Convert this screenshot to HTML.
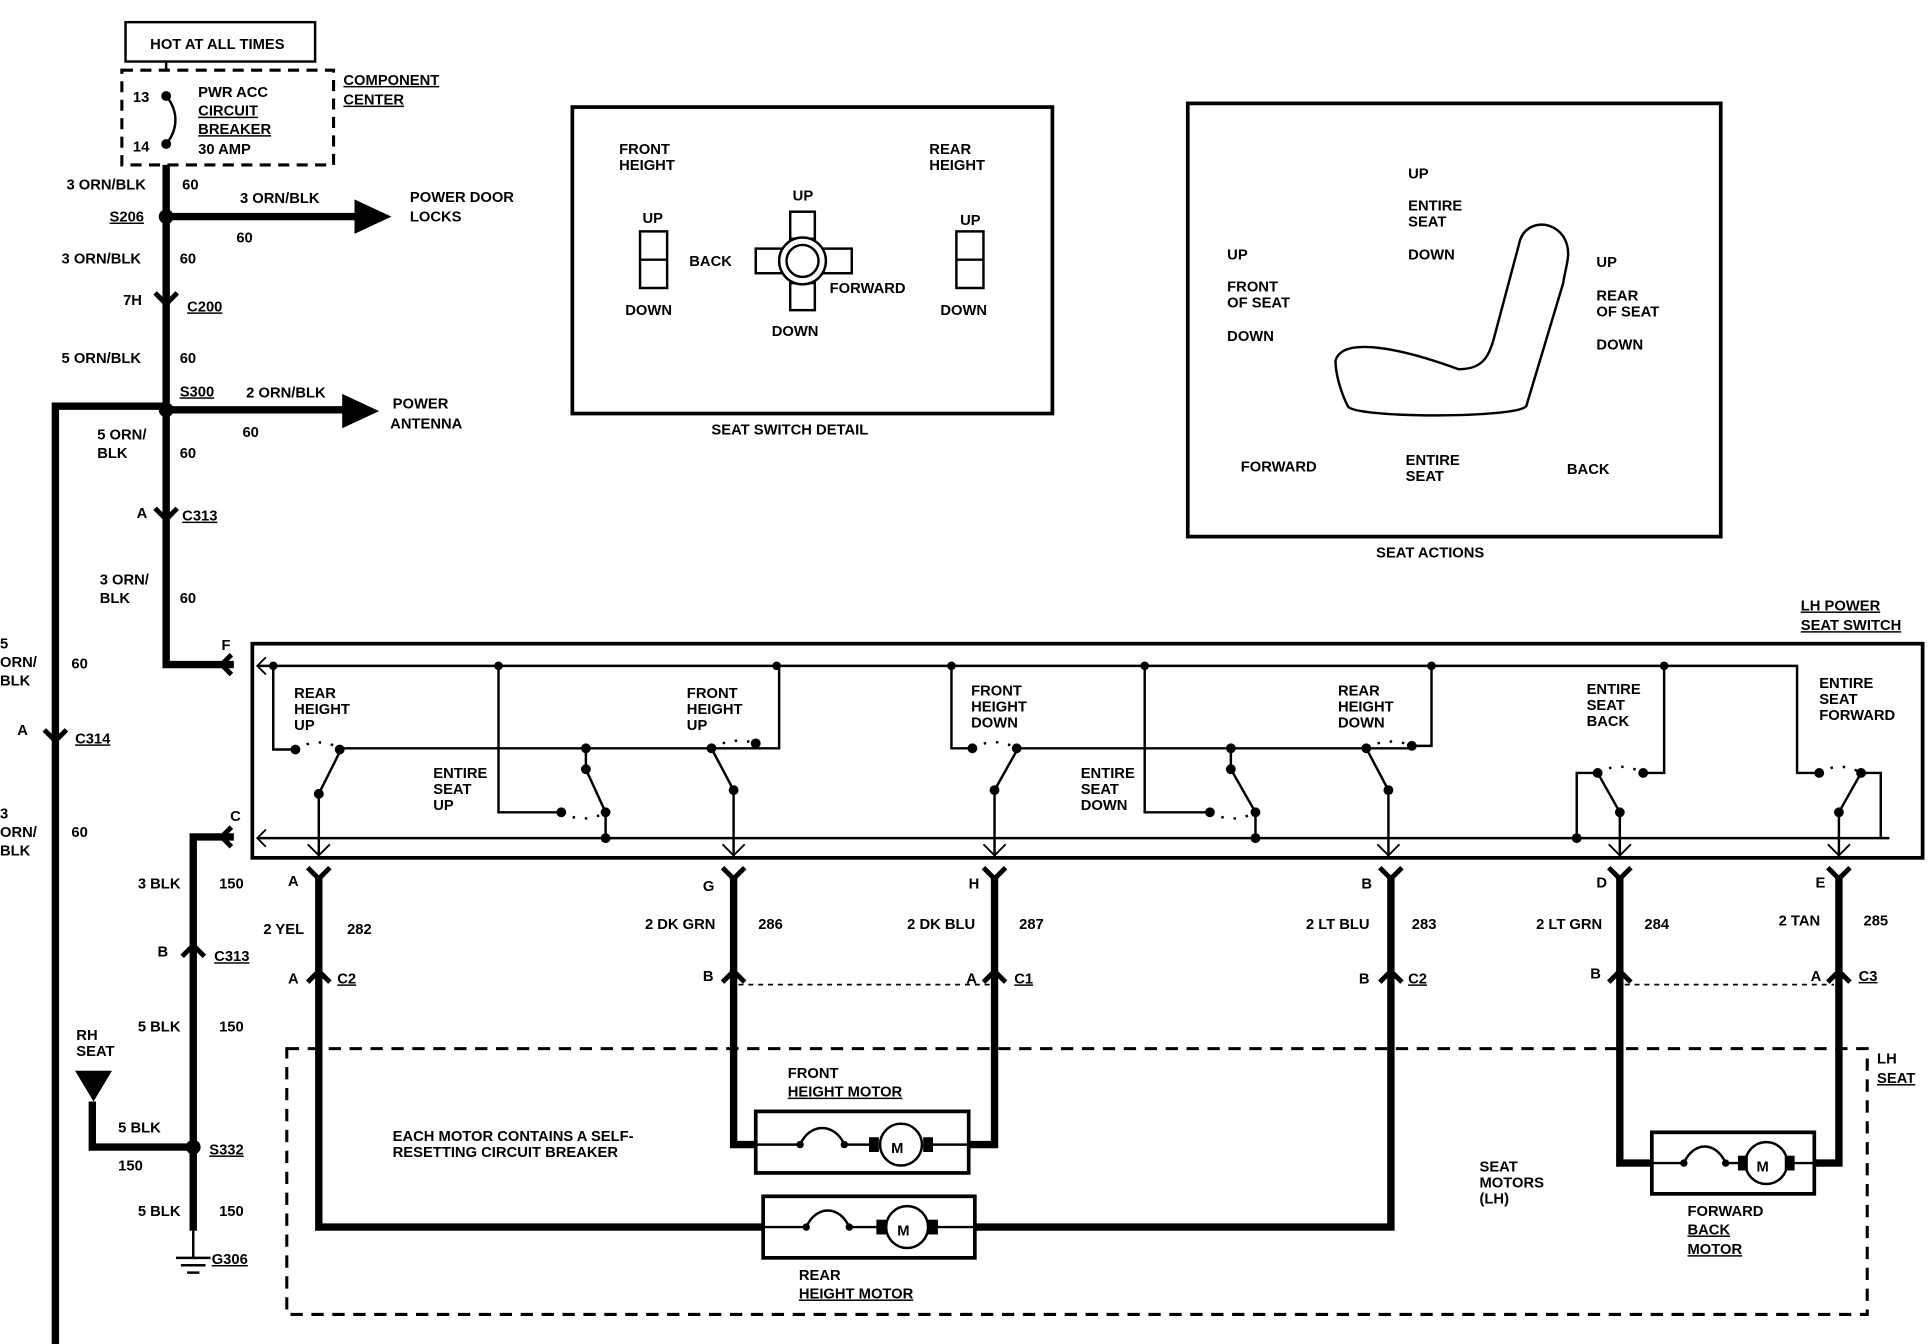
<!DOCTYPE html>
<html><head><meta charset="utf-8"><style>
html,body{margin:0;padding:0;background:#fff;}
svg{display:block;}
text{font-family:"Liberation Sans",sans-serif;font-weight:bold;font-size:12px;fill:#000;}
</style></head><body>
<svg width="1930" height="1344" viewBox="0 0 1568 1092" preserveAspectRatio="none" xmlns="http://www.w3.org/2000/svg">
<rect width="1568" height="1092" fill="#fff"/>
<g stroke="#000" fill="none">
<rect x="102" y="18" width="154" height="32" stroke-width="2"/>
<rect x="99" y="57" width="172" height="77" stroke-width="2.5" stroke-dasharray="9,6"/>
<line x1="135" y1="50" x2="135" y2="57" stroke-width="2"/>
<path d="M135,78 C145,90 145,105 135,117" stroke-width="2"/>
<path d="M135,134 V540 H190" stroke-width="6"/>
<path d="M135,176 H290" stroke-width="6"/>
<path d="M135,333 H280" stroke-width="6"/>
<path d="M45,1092 V330 H135" stroke-width="6"/>
<path d="M157,1000 V680 H190" stroke-width="6"/>
<path d="M75,895 V932 H157" stroke-width="6"/>
<line x1="157" y1="1000" x2="157" y2="1022" stroke-width="2"/>
<line x1="143" y1="1022" x2="171" y2="1022" stroke-width="2"/>
<line x1="147" y1="1028" x2="167" y2="1028" stroke-width="2"/>
<line x1="152" y1="1034" x2="162" y2="1034" stroke-width="2"/>
<rect x="465" y="87" width="390" height="249" stroke-width="3"/>
<rect x="965" y="84" width="433" height="352" stroke-width="3"/>
<rect x="520" y="188" width="22" height="46" stroke-width="2"/><line x1="520" y1="211" x2="542" y2="211" stroke-width="2"/>
<rect x="777" y="188" width="22" height="46" stroke-width="2"/><line x1="777" y1="211" x2="799" y2="211" stroke-width="2"/>
<rect x="642" y="172" width="20" height="22" stroke-width="2"/>
<rect x="642" y="230" width="20" height="22" stroke-width="2"/>
<rect x="614" y="202" width="22" height="20" stroke-width="2"/>
<rect x="668" y="202" width="24" height="20" stroke-width="2"/>
<circle cx="652" cy="212" r="19" stroke-width="2" fill="#fff"/>
<circle cx="652" cy="212" r="13" stroke-width="2"/>
<path d="M1085,293 C1090,275 1130,280 1185,300 C1205,300 1210,290 1215,270 L1235,195 C1240,180 1260,178 1270,192 C1278,205 1272,215 1270,230 L1240,330 C1232,340 1100,340 1095,330 C1090,320 1085,305 1085,293 Z" stroke-width="2"/>
<rect x="205" y="523" width="1357" height="174" stroke-width="3"/>
<path d="M210,541 H1460 V628 H1478" stroke-width="2"/>
<path d="M210,681 H1535" stroke-width="2"/>
<path d="M222,541 V609 H240" stroke-width="2"/>
<path d="M276,608 H633 V541" stroke-width="2"/>
<path d="M405,541 V660 H456" stroke-width="2"/>
<path d="M259,697 V645 L276,611" stroke-width="2"/>
<path d="M476,608 V625 L492,660 V681" stroke-width="2"/>
<path d="M596,697 V642 L578,608" stroke-width="2"/>
<path d="M773,541 V608 H790" stroke-width="2"/>
<path d="M826,608 H1147" stroke-width="2"/>
<path d="M1147,606 H1163 V541" stroke-width="2"/>
<path d="M808,697 V642 L826,610" stroke-width="2"/>
<path d="M930,541 V660 H983" stroke-width="2"/>
<path d="M1000,608 V625 L1020,660 V681" stroke-width="2"/>
<path d="M1128,697 V642 L1110,608" stroke-width="2"/>
<path d="M1352,541 V628 H1335" stroke-width="2"/>
<path d="M1298,628 H1281 V681" stroke-width="2"/>
<path d="M1316,697 V660 L1298,628" stroke-width="2"/>
<path d="M1512,628 H1528 V681" stroke-width="2"/>
<path d="M1494,697 V660 L1512,628" stroke-width="2"/>
<g stroke-width="2" stroke-dasharray="2,8">
<path d="M240,609 Q258,598 276,608"/><path d="M578,608 Q596,598 614,604"/>
<path d="M456,660 Q474,670 492,660"/><path d="M790,608 Q808,598 826,608"/>
<path d="M983,660 Q1001,670 1020,660"/><path d="M1110,608 Q1128,598 1147,606"/>
<path d="M1298,628 Q1316,618 1335,628"/><path d="M1478,628 Q1495,618 1512,628"/>
</g>
<g stroke-width="6">
<path d="M259,712 V997 H620"/><path d="M792,997 H1130 V712"/>
<path d="M596,712 V930 H614"/><path d="M808,712 V930 H787"/>
<path d="M1316,712 V945 H1342"/><path d="M1494,712 V945 H1474"/>
</g>
<path d="M600,800 H805 M1320,800 H1490" stroke-width="1.5" stroke-dasharray="4,4"/>
<rect x="233" y="852" width="1284" height="216" stroke-width="2.5" stroke-dasharray="10,7"/>
<rect x="614" y="903" width="173" height="50" stroke-width="3" fill="#fff"/>
<rect x="620" y="972" width="172" height="50" stroke-width="3" fill="#fff"/>
<rect x="1342" y="920" width="132" height="50" stroke-width="3" fill="#fff"/>
</g>
<g stroke="#000" stroke-width="2" fill="none">
<path d="M614,930 H650 M686,930 H712 M752,930 H787"/><path d="M650,930 C658,912 678,912 686,930"/><circle cx="732" cy="930" r="17"/>
<path d="M620,997 H655 M690,997 H718 M756,997 H792"/><path d="M655,997 C663,979 682,979 690,997"/><circle cx="737" cy="997" r="17"/>
<path d="M1342,945 H1368 M1402,945 H1418 M1452,945 H1474"/><path d="M1368,945 C1376,927 1394,927 1402,945"/><circle cx="1435" cy="945" r="17"/>
</g>
<text x="724" y="937" font-size="16">M</text>
<text x="729" y="1004" font-size="16">M</text>
<text x="1427" y="952" font-size="16">M</text>
<g fill="#000">
<rect x="706" y="924" width="8" height="12"/><rect x="750" y="924" width="8" height="12"/>
<rect x="712" y="991" width="8" height="12"/><rect x="754" y="991" width="8" height="12"/>
<rect x="1412" y="939" width="8" height="12"/><rect x="1450" y="939" width="8" height="12"/>
<circle cx="650" cy="930" r="3"/><circle cx="686" cy="930" r="3"/><circle cx="655" cy="997" r="3"/><circle cx="690" cy="997" r="3"/><circle cx="1368" cy="945" r="3"/><circle cx="1402" cy="945" r="3"/>
<circle cx="135" cy="78" r="4"/><circle cx="135" cy="117" r="4"/>
<circle cx="135" cy="176" r="6"/><circle cx="135" cy="333" r="6"/><circle cx="157" cy="932" r="6"/>
<polygon points="288,162 318,176 288,190"/><polygon points="278,320 308,334 278,348"/>
<polygon points="61,870 91,870 76,895"/>
<circle cx="222" cy="541" r="3.5"/><circle cx="405" cy="541" r="3.5"/><circle cx="631" cy="541" r="3.5"/><circle cx="773" cy="541" r="3.5"/><circle cx="930" cy="541" r="3.5"/><circle cx="1163" cy="541" r="3.5"/><circle cx="1352" cy="541" r="3.5"/>
<circle cx="240" cy="609" r="4"/><circle cx="276" cy="609" r="4"/><circle cx="259" cy="645" r="4"/>
<circle cx="578" cy="608" r="4"/><circle cx="614" cy="604" r="4"/><circle cx="596" cy="642" r="4"/>
<circle cx="456" cy="660" r="4"/><circle cx="492" cy="660" r="4"/><circle cx="476" cy="608" r="4"/><circle cx="476" cy="625" r="4"/><circle cx="492" cy="681" r="4"/>
<circle cx="790" cy="608" r="4"/><circle cx="826" cy="608" r="4"/><circle cx="808" cy="642" r="4"/>
<circle cx="983" cy="660" r="4"/><circle cx="1020" cy="660" r="4"/><circle cx="1000" cy="608" r="4"/><circle cx="1000" cy="625" r="4"/><circle cx="1020" cy="681" r="4"/>
<circle cx="1110" cy="608" r="4"/><circle cx="1147" cy="606" r="4"/><circle cx="1128" cy="642" r="4"/>
<circle cx="1298" cy="628" r="4"/><circle cx="1335" cy="628" r="4"/><circle cx="1316" cy="660" r="4"/><circle cx="1281" cy="681" r="4"/>
<circle cx="1478" cy="628" r="4"/><circle cx="1512" cy="628" r="4"/><circle cx="1494" cy="660" r="4"/>
</g>
<g stroke="#000" stroke-width="4" fill="none">
<path d="M126,238 L135,247 L144,238"/><path d="M126,413 L135,422 L144,413"/><path d="M36,593 L45,602 L54,593"/>
<path d="M188,532 L180,540 L188,548"/><path d="M188,672 L180,680 L188,688"/>
<path d="M148,777 L157,768 L166,777"/>
<path d="M250,705 L259,714 L268,705"/><path d="M250,798 L259,789 L268,798"/>
<path d="M587,705 L596,714 L605,705"/><path d="M587,798 L596,789 L605,798"/>
<path d="M799,705 L808,714 L817,705"/><path d="M799,798 L808,789 L817,798"/>
<path d="M1121,705 L1130,714 L1139,705"/><path d="M1121,798 L1130,789 L1139,798"/>
<path d="M1307,705 L1316,714 L1325,705"/><path d="M1307,798 L1316,789 L1325,798"/>
<path d="M1485,705 L1494,714 L1503,705"/><path d="M1485,798 L1494,789 L1503,798"/>
</g>
<g stroke="#000" stroke-width="1.5" fill="none">
<path d="M250,686 L259,695 L268,686 M587,686 L596,695 L605,686 M799,686 L808,695 L817,686 M1119,686 L1128,695 L1137,686 M1307,686 L1316,695 L1325,686 M1485,686 L1494,695 L1503,686"/>
<path d="M216,534 L209,541 L216,548 M216,674 L209,681 L216,688"/>
</g>
<text x="122" y="40">HOT AT ALL TIMES</text>
<text x="108" y="83">13</text><text x="108" y="123">14</text>
<text x="161" y="79">PWR ACC</text><text x="161" y="94" text-decoration="underline">CIRCUIT</text><text x="161" y="109" text-decoration="underline">BREAKER</text><text x="161" y="125">30 AMP</text>
<text x="279" y="69" text-decoration="underline">COMPONENT</text><text x="279" y="85" text-decoration="underline">CENTER</text>
<text x="54" y="154">3 ORN/BLK</text><text x="148" y="154">60</text>
<text x="195" y="165">3 ORN/BLK</text><text x="192" y="197">60</text>
<text x="333" y="164">POWER DOOR</text><text x="333" y="180">LOCKS</text>
<text x="89" y="180" text-decoration="underline">S206</text>
<text x="50" y="214">3 ORN/BLK</text><text x="146" y="214">60</text>
<text x="100" y="248">7H</text><text x="152" y="253" text-decoration="underline">C200</text>
<text x="50" y="295">5 ORN/BLK</text><text x="146" y="295">60</text>
<text x="146" y="322" text-decoration="underline">S300</text>
<text x="200" y="323">2 ORN/BLK</text><text x="197" y="355">60</text>
<text x="319" y="332">POWER</text><text x="317" y="348">ANTENNA</text>
<text x="79" y="357">5 ORN/</text><text x="79" y="372">BLK</text><text x="146" y="372">60</text>
<text x="111" y="421">A</text><text x="148" y="423" text-decoration="underline">C313</text>
<text x="81" y="475">3 ORN/</text><text x="81" y="490">BLK</text><text x="146" y="490">60</text>
<text x="180" y="528">F</text>
<text x="0" y="527">5</text><text x="0" y="542">ORN/</text><text x="0" y="557">BLK</text><text x="58" y="543">60</text>
<text x="14" y="597">A</text><text x="61" y="604" text-decoration="underline">C314</text>
<text x="0" y="665">3</text><text x="0" y="680">ORN/</text><text x="0" y="695">BLK</text><text x="58" y="680">60</text>
<text x="187" y="667">C</text>
<text x="112" y="722">3 BLK</text><text x="178" y="722">150</text>
<text x="128" y="777">B</text><text x="174" y="781" text-decoration="underline">C313</text>
<text x="112" y="838">5 BLK</text><text x="178" y="838">150</text>
<text x="62" y="845">RH</text><text x="62" y="858">SEAT</text>
<text x="96" y="920">5 BLK</text><text x="96" y="951">150</text><text x="170" y="938" text-decoration="underline">S332</text>
<text x="112" y="988">5 BLK</text><text x="178" y="988">150</text>
<text x="172" y="1027" text-decoration="underline">G306</text>
<text x="503" y="125">FRONT</text><text x="503" y="138">HEIGHT</text>
<text x="755" y="125">REAR</text><text x="755" y="138">HEIGHT</text>
<text x="644" y="163">UP</text><text x="522" y="181">UP</text><text x="780" y="183">UP</text>
<text x="560" y="216">BACK</text><text x="674" y="238">FORWARD</text>
<text x="508" y="256">DOWN</text><text x="764" y="256">DOWN</text><text x="627" y="273">DOWN</text>
<text x="578" y="353">SEAT SWITCH DETAIL</text>
<text x="1144" y="145">UP</text><text x="1144" y="171">ENTIRE</text><text x="1144" y="184">SEAT</text><text x="1144" y="211">DOWN</text>
<text x="997" y="211">UP</text><text x="997" y="237">FRONT</text><text x="997" y="250">OF SEAT</text><text x="997" y="277">DOWN</text>
<text x="1297" y="217">UP</text><text x="1297" y="244">REAR</text><text x="1297" y="257">OF SEAT</text><text x="1297" y="284">DOWN</text>
<text x="1008" y="383">FORWARD</text><text x="1142" y="378">ENTIRE</text><text x="1142" y="391">SEAT</text><text x="1273" y="385">BACK</text>
<text x="1118" y="453">SEAT ACTIONS</text>
<text x="1463" y="496" text-decoration="underline">LH POWER</text><text x="1463" y="512" text-decoration="underline">SEAT SWITCH</text>
<text x="239" y="567">REAR</text><text x="239" y="580">HEIGHT</text><text x="239" y="593">UP</text>
<text x="558" y="567">FRONT</text><text x="558" y="580">HEIGHT</text><text x="558" y="593">UP</text>
<text x="352" y="632">ENTIRE</text><text x="352" y="645">SEAT</text><text x="352" y="658">UP</text>
<text x="789" y="565">FRONT</text><text x="789" y="578">HEIGHT</text><text x="789" y="591">DOWN</text>
<text x="878" y="632">ENTIRE</text><text x="878" y="645">SEAT</text><text x="878" y="658">DOWN</text>
<text x="1087" y="565">REAR</text><text x="1087" y="578">HEIGHT</text><text x="1087" y="591">DOWN</text>
<text x="1289" y="564">ENTIRE</text><text x="1289" y="577">SEAT</text><text x="1289" y="590">BACK</text>
<text x="1478" y="559">ENTIRE</text><text x="1478" y="572">SEAT</text><text x="1478" y="585">FORWARD</text>
<text x="234" y="720">A</text><text x="571" y="724">G</text><text x="787" y="722">H</text><text x="1106" y="722">B</text><text x="1297" y="721">D</text><text x="1475" y="721">E</text>
<text x="214" y="759">2 YEL</text><text x="282" y="759">282</text>
<text x="524" y="755">2 DK GRN</text><text x="616" y="755">286</text>
<text x="737" y="755">2 DK BLU</text><text x="828" y="755">287</text>
<text x="1061" y="755">2 LT BLU</text><text x="1147" y="755">283</text>
<text x="1248" y="755">2 LT GRN</text><text x="1336" y="755">284</text>
<text x="1445" y="752">2 TAN</text><text x="1514" y="752">285</text>
<text x="234" y="799">A</text><text x="274" y="799" text-decoration="underline">C2</text>
<text x="571" y="797">B</text><text x="785" y="799">A</text><text x="824" y="799" text-decoration="underline">C1</text>
<text x="1104" y="799">B</text><text x="1144" y="799" text-decoration="underline">C2</text>
<text x="1292" y="795">B</text><text x="1471" y="797">A</text><text x="1510" y="797" text-decoration="underline">C3</text>
<text x="1525" y="864">LH</text><text x="1525" y="880" text-decoration="underline">SEAT</text>
<text x="640" y="876">FRONT</text><text x="640" y="891" text-decoration="underline">HEIGHT MOTOR</text>
<text x="319" y="927">EACH MOTOR CONTAINS A SELF-</text><text x="319" y="940">RESETTING CIRCUIT BREAKER</text>
<text x="1202" y="952">SEAT</text><text x="1202" y="965">MOTORS</text><text x="1202" y="978">(LH)</text>
<text x="1371" y="988">FORWARD</text><text x="1371" y="1003" text-decoration="underline">BACK</text><text x="1371" y="1019" text-decoration="underline">MOTOR</text>
<text x="649" y="1040">REAR</text><text x="649" y="1055" text-decoration="underline">HEIGHT MOTOR</text>
</svg>
</body></html>
